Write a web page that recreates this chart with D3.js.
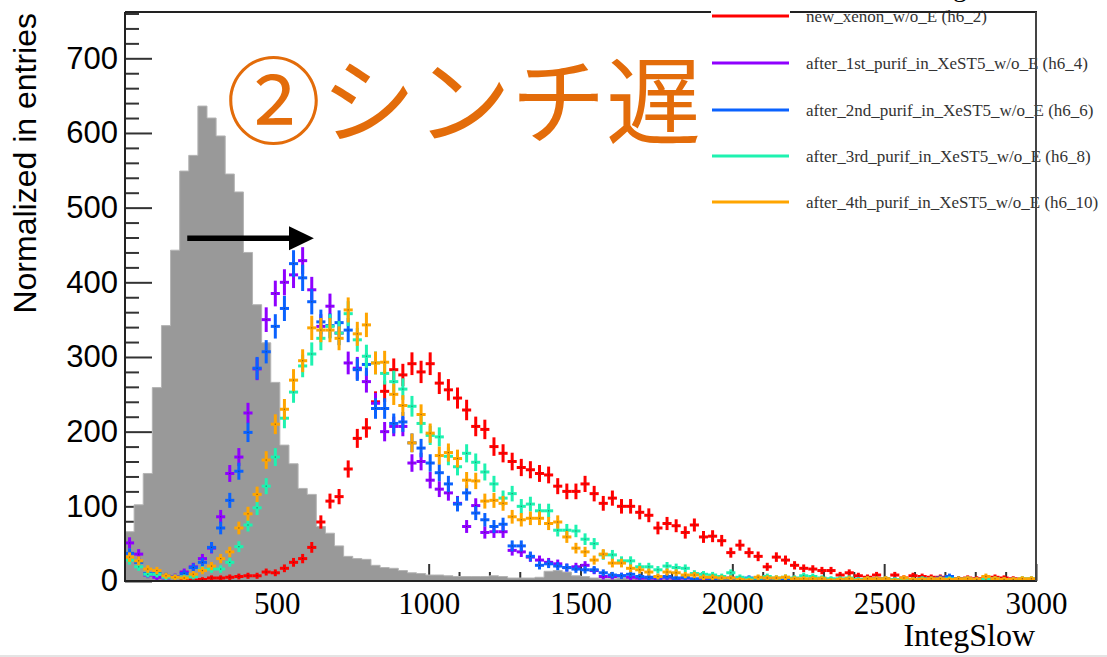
<!DOCTYPE html>
<html>
<head>
<meta charset="utf-8">
<script src="https://cdn.jsdelivr.net/npm/d3@7"></script>
<style>
  body { margin: 0; background: #fff; }
  svg { display: block; }
  .y-axis text { font-family: "Liberation Sans", Arial, sans-serif; font-size: 31px; fill: #000; }
  .x-axis text { font-family: "Liberation Serif", "Times New Roman", serif; font-size: 31px; fill: #000; }
  .axis-title-x { font-family: "Liberation Serif", "Times New Roman", serif; font-size: 32px; fill: #000; }
  .axis-title-y { font-family: "Liberation Sans", Arial, sans-serif; font-size: 32px; fill: #000; }
  .leg-text { font-family: "Liberation Serif", "Times New Roman", serif; font-size: 17px; fill: #333; }
  .note { font-family: "Noto Sans CJK JP", sans-serif; font-size: 95px; fill: #e36c0a; }
</style>
</head>
<body>
<svg id="chart"></svg>
<script>
// 100 bins of 30 on IntegSlow, 0..3000
const binWidth = 30
const xTicks = [500, 1000, 1500, 2000, 2500, 3000]
const yTicks = [0, 100, 200, 300, 400, 500, 600, 700]

const grayRef = [66,102,144,259,342,443,549,570,636,620,
  596,545,521,440,370,319,266,182,157,124,
  116,73,64,47,33,30,29,21,18,17,
  14,11,10,8,8,7,6,6,6,6,
  7,6,4,4,4,5,13,14,12,7,
  6,4,3,3,4,3,3,3,2,3,
  2,2,3,2,2,2,2,1,2,2,
  2,1,2,1,2,1,1,2,1,1,
  1,1,2,1,1,1,1,1,1,1,
  1,1,1,1,1,1,1,1,1,1]

const newXenon = [0,0,0,0,0,0,1,1,2,4,
  4,5,6,7,7,12,11,17,25,30,
  45,79,107,113,150,191,205,240,254,283,
  276,291,280,291,265,256,245,229,207,203,
  180,171,160,152,149,144,142,127,120,120,
  130,117,104,111,100,100,92,88,71,77,
  74,65,75,59,60,54,38,48,38,33,
  19,32,28,21,17,16,14,14,8,11,
  7,5,8,3,8,4,7,6,5,5,
  3,3,4,3,4,5,4,3,2,2]

const purif1 = [51,36,8,5,4,6,12,19,30,44,
  86,144,166,225,284,350,385,400,410,429,
  390,341,368,332,292,285,267,238,200,207,
  207,158,160,135,123,118,104,73,101,65,
  66,66,41,39,32,28,25,23,18,19,
  21,14,6,6,7,5,4,4,3,5,
  3,4,2,3,2,2,4,2,1,2,
  2,1,2,1,2,1,2,1,1,2,
  1,1,2,1,1,2,1,1,2,1,
  1,2,1,1,1,2,1,1,1,1]

const purif2 = [37,25,10,10,7,5,10,18,25,45,
  71,108,147,199,285,307,341,365,425,406,
  374,347,342,346,336,283,290,231,231,211,
  213,185,178,158,145,130,103,118,91,82,
  73,76,47,47,33,21,23,20,18,16,
  15,15,11,8,7,9,6,5,5,6,
  4,5,3,4,3,3,2,3,4,3,
  2,3,2,3,2,2,3,2,2,3,
  2,2,3,2,2,1,2,2,3,4,
  6,3,2,2,2,2,1,2,2,1]

const purif3 = [28,19,9,9,5,5,5,6,15,16,
  16,25,46,75,98,127,166,218,253,288,
  304,325,341,332,358,323,301,292,278,267,
  257,234,211,195,193,167,153,171,159,146,
  130,111,117,100,103,94,94,68,68,67,
  56,50,35,35,27,27,19,19,15,20,
  18,17,10,9,8,6,11,5,3,4,
  6,4,5,4,7,6,4,3,3,4,
  2,3,2,3,2,3,2,3,2,2,
  3,2,3,2,2,3,2,2,3,3]

const purif4 = [32,27,16,14,7,5,4,9,14,20,
  30,39,71,90,116,162,210,230,269,295,
  339,336,336,325,363,331,343,292,293,250,
  235,185,223,198,168,172,164,135,134,107,
  108,104,86,82,84,84,77,79,59,44,
  39,28,36,24,24,17,15,12,6,12,
  11,8,8,5,5,4,4,2,1,5,
  4,4,5,3,3,3,3,1,2,3,
  1,3,3,3,1,4,2,2,3,3,
  2,3,3,2,6,3,2,2,3,3]

const seriesNames = [
  'new_xenon_w/o_E (h6_2)',
  'after_1st_purif_in_XeST5_w/o_E (h6_4)',
  'after_2nd_purif_in_XeST5_w/o_E (h6_6)',
  'after_3rd_purif_in_XeST5_w/o_E (h6_8)',
  'after_4th_purif_in_XeST5_w/o_E (h6_10)'
]
const seriesColors = ['#ff0000', '#8f00ff', '#0a62ff', '#1ef2b0', '#ffa500']
const seriesValues = [newXenon, purif1, purif2, purif3, purif4]

class HistoPlot {

    constructor(config) {
        this.config = {
            parentElement: config.parentElement,
            containerWidth: config.containerWidth || 1107,
            containerHeight: config.containerHeight || 657,
            frame: {left: 125, right: 1036, top: 12, bottom: 581},
            errScale: 0.6
        }
        this.initVis()
    }

    initVis() {
        let vis = this
        let f = vis.config.frame

        vis.svg = d3.select(vis.config.parentElement)
            .attr('width', vis.config.containerWidth)
            .attr('height', vis.config.containerHeight)

        vis.xScale = d3.scaleLinear().domain([0, 3000]).range([f.left, f.right])
        vis.yScale = d3.scaleLinear().domain([0, 762]).range([f.bottom, f.top])

        // y axis, ticks point inward (ROOT style)
        vis.svg.append('g')
            .attr('class', 'axis y-axis')
            .attr('transform', `translate(${f.left},0)`)
            .call(d3.axisLeft(vis.yScale).tickValues(yTicks).tickFormat(d3.format('d'))
                .tickSizeInner(-27).tickSizeOuter(0).tickPadding(7))
            .call(g => g.select('.domain').remove())

        vis.svg.append('g')
            .attr('class', 'axis y-minor')
            .attr('transform', `translate(${f.left},0)`)
            .call(d3.axisLeft(vis.yScale)
                .tickValues(d3.range(20, 762, 20).filter(v => v % 100 !== 0))
                .tickSizeInner(-14).tickSizeOuter(0).tickFormat(''))
            .call(g => g.select('.domain').remove())

        vis.svg.append('g')
            .attr('class', 'axis x-axis')
            .attr('transform', `translate(0,${f.bottom})`)
            .call(d3.axisBottom(vis.xScale).tickValues(xTicks).tickFormat(d3.format('d'))
                .tickSizeInner(-17).tickSizeOuter(0).tickPadding(11))
            .call(g => g.select('.domain').remove())

        vis.svg.append('g')
            .attr('class', 'axis x-minor')
            .attr('transform', `translate(0,${f.bottom})`)
            .call(d3.axisBottom(vis.xScale)
                .tickValues(d3.range(100, 3000, 100).filter(v => v % 500 !== 0))
                .tickSizeInner(-9).tickSizeOuter(0).tickFormat(''))
            .call(g => g.select('.domain').remove())

        vis.svg.selectAll('.axis .tick line').attr('stroke', '#333').attr('stroke-width', 2)

        vis.chart = vis.svg.append('g')

        vis.svg.append('defs').append('clipPath').attr('id', 'plot-clip')
            .append('rect')
            .attr('x', f.left).attr('y', f.top)
            .attr('width', f.right - f.left).attr('height', f.bottom - f.top)
    }

    renderVis() {
        let vis = this
        let f = vis.config.frame
        let x = vis.xScale, y = vis.yScale

        // gray reference histogram
        let pts = grayRef.map((v, i) => [i * binWidth, v])
        pts.push([3000, grayRef[grayRef.length - 1]])
        vis.chart.append('path')
            .datum(pts)
            .attr('fill', '#999999')
            .attr('stroke', '#b4b4b4')
            .attr('stroke-width', 1)
            .attr('d', d3.area().curve(d3.curveStepAfter).x(d => x(d[0])).y0(y(0)).y1(d => y(d[1])))

        // error-bar crosses, drawn in legend order
        let marks = vis.chart.append('g').attr('clip-path', 'url(#plot-clip)')
        seriesValues.forEach((vals, s) => {
            let g = marks.append('g').attr('stroke', seriesColors[s]).attr('stroke-width', 3)
            let data = vals.map((v, i) => ({v: v, lo: i * binWidth, err: Math.sqrt(vis.config.errScale * v)}))
                .filter(d => d.v > 0)
            g.selectAll('.hbar').data(data).join('line')
                .attr('class', 'hbar')
                .attr('x1', d => x(d.lo)).attr('x2', d => x(d.lo + binWidth))
                .attr('y1', d => y(d.v)).attr('y2', d => y(d.v))
            g.selectAll('.vbar').data(data).join('line')
                .attr('class', 'vbar')
                .attr('x1', d => x(d.lo + binWidth / 2)).attr('x2', d => x(d.lo + binWidth / 2))
                .attr('y1', d => y(d.v - d.err) + 1.5).attr('y2', d => y(d.v + d.err) - 1.5)
            marks.append('g').selectAll('rect').data(data).join('rect')
                .attr('x', d => x(d.lo + binWidth / 2) - 0.6).attr('y', d => y(d.v) - 0.6)
                .attr('width', 1.2).attr('height', 1.2)
                .attr('fill', '#333').attr('opacity', 0.6)
        })

        // annotation text and arrow
        vis.svg.append('text')
            .attr('class', 'note')
            .attr('x', 226).attr('y', 137)
            .text('②シンチ遅')

        vis.svg.append('line')
            .attr('x1', x(205)).attr('x2', x(545))
            .attr('y1', y(459)).attr('y2', y(459))
            .attr('stroke', '#000').attr('stroke-width', 5.5)
        vis.svg.append('path')
            .attr('fill', '#000')
            .attr('d', `M${x(540)},${y(459) - 12}L${x(622)},${y(459)}L${x(540)},${y(459) + 12}Z`)

        // legend
        let leg = vis.svg.append('g')
        let legY = [16, 63, 110, 156, 202]
        seriesNames.forEach((name, s) => {
            leg.append('line')
                .attr('x1', 712).attr('x2', 789)
                .attr('y1', legY[s]).attr('y2', legY[s])
                .attr('stroke', seriesColors[s]).attr('stroke-width', 3)
            leg.append('text')
                .attr('class', 'leg-text')
                .attr('x', 806).attr('y', legY[s] + 5.5)
                .text(name)
        })

        // frame
        let fr = vis.svg.append('g').attr('stroke', '#222').attr('stroke-width', 2).attr('fill', 'none')
        fr.append('path').attr('d', `M${f.left},${f.top}V${f.bottom}H${f.right}V${f.top}H790M711,${f.top}H${f.left}`)
        fr.append('line').attr('x1', 1036).attr('x2', 1036).attr('y1', f.top).attr('y2', f.bottom).attr('stroke', '#444')

        // axis titles
        vis.svg.append('text')
            .attr('class', 'axis-title-x')
            .attr('x', 1035).attr('y', 646)
            .attr('text-anchor', 'end')
            .text('IntegSlow')

        vis.svg.append('text')
            .attr('class', 'axis-title-y')
            .attr('transform', 'translate(36,13) rotate(-90)')
            .attr('text-anchor', 'end')
            .text('Normalized in entries')

        // cut-off title descender at the top edge
        vis.svg.append('text')
            .attr('class', 'axis-title-x')
            .attr('x', 953).attr('y', -4)
            .style('font-size', '28px')
            .text('g')

        vis.svg.append('rect')
            .attr('x', 0).attr('y', 655)
            .attr('width', 1107).attr('height', 2)
            .attr('fill', '#e4e4e4')
    }
}

const plot = new HistoPlot({parentElement: '#chart'})
plot.renderVis()
</script>
</body>
</html>
